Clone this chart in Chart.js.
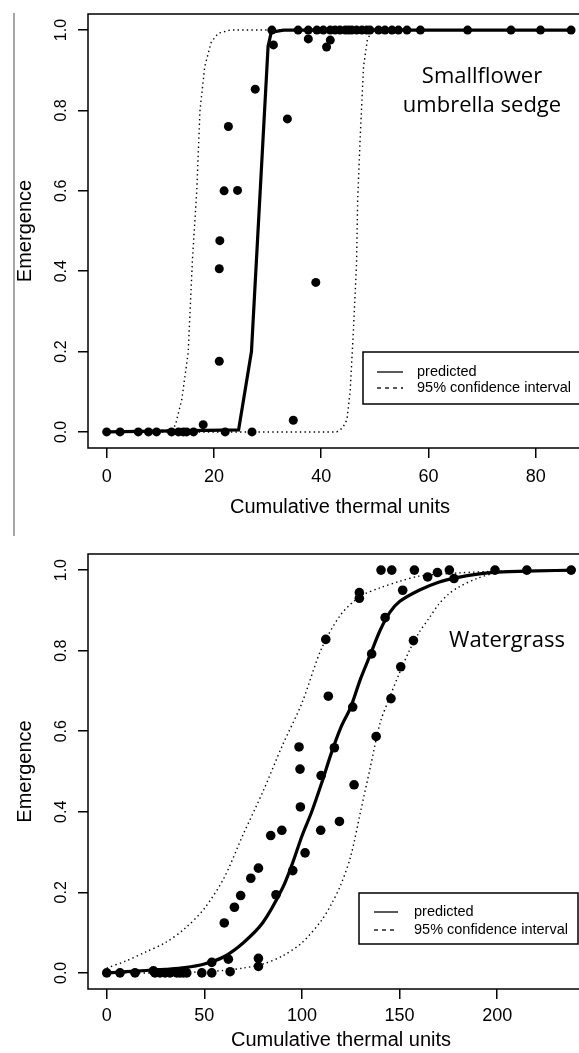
<!DOCTYPE html>
<html>
  <head>
    <title>Emergence vs cumulative thermal units</title>
    <script src="https://cdn.jsdelivr.net/npm/chart.js@4.4.1/dist/chart.umd.min.js"></script>
    <style>
      html, body { margin: 0; padding: 0; overflow: hidden; background: #fff; }
      canvas { display: block; }
    </style>
  </head>

  <body>
    <canvas id="sedge" width="610" height="530"></canvas>
    <canvas id="grass" width="610" height="523"></canvas>
    <script>
      // Smallflower umbrella sedge: observed points
      const sedgeObsX = [0, 2.5, 5.9, 7.8, 9.3, 12.1, 13.4, 14.3, 14.9, 16.2, 22.1, 27.1,
        18.0, 21.0, 21.0, 21.1, 21.9, 24.4, 22.7, 27.7, 33.7, 31.1, 34.8, 39.0,
        37.6, 41.0, 41.7,
        30.8, 35.7, 37.6, 39.2, 40.4, 41.7, 42.6, 43.5, 44.5, 45.1, 45.7, 46.6, 47.6,
        48.5, 49.1, 50.7, 51.9, 53.2, 54.4, 56.0, 58.5, 67.3, 75.4, 80.9, 86.6];
      const sedgeObsY = [0, 0, 0, 0, 0, 0, 0, 0, 0, 0, 0, 0,
        0.018, 0.176, 0.406, 0.476, 0.60, 0.601, 0.76, 0.853, 0.779, 0.963, 0.029, 0.372,
        0.978, 0.958, 0.975,
        1, 1, 1, 1, 1, 1, 1, 1, 1, 1, 1, 1, 1,
        1, 1, 1, 1, 1, 1, 1, 1, 1, 1, 1, 1];
      // predicted curve and 95% confidence bands
      const sedgePredX = [0, 24.6, 27.0, 30.1, 30.7, 33.0, 87];
      const sedgePredY = [0, 0.005, 0.2, 0.96, 0.995, 1.0, 1.0];
      const sedgeUpX = [0, 12.0, 12.8, 14.0, 15.2, 16.0, 16.8, 17.4, 18.3, 19.5, 20.8, 23.0, 87];
      const sedgeUpY = [0, 0.005, 0.016, 0.08, 0.197, 0.43, 0.6, 0.8, 0.91, 0.97, 0.992, 1.0, 1.0];
      const sedgeLoX = [0, 42.9, 44.0, 44.8, 45.4, 46.0, 46.6, 46.8, 47.3, 47.9, 48.6, 49.5, 87];
      const sedgeLoY = [0, 0, 0.01, 0.03, 0.1, 0.25, 0.42, 0.577, 0.74, 0.909, 0.975, 1.0, 1.0];

      // Watergrass: observed points
      const grassObsX = [0, 6.8, 14.5, 24.7, 27.3, 29.9, 32.4, 35.9, 37.5, 39.2, 41.0, 48.7, 53.8, 63.2,
        23.9, 53.8, 62.3, 77.7, 77.7, 60.2, 65.4, 68.6, 73.8, 77.7, 84.0, 89.7, 86.7, 95.3,
        99.2, 101.6, 109.6, 119.2, 126.7, 98.5, 99.0, 109.8, 116.6, 112.2, 113.5, 126.0,
        138.0, 145.6, 150.6, 157.1, 135.7, 142.6, 151.6, 129.4, 129.4, 164.4, 169.4, 177.9,
        140.5, 146.0, 157.6, 175.5, 198.9, 215.2, 237.9];
      const grassObsY = [0, 0, 0, 0, 0, 0, 0, 0, 0, 0, 0, 0, 0, 0.003,
        0.005, 0.026, 0.034, 0.036, 0.016, 0.124, 0.163, 0.192, 0.235, 0.260, 0.341, 0.354, 0.194, 0.254,
        0.412, 0.298, 0.354, 0.376, 0.467, 0.561, 0.506, 0.490, 0.559, 0.828, 0.687, 0.660,
        0.587, 0.681, 0.760, 0.825, 0.792, 0.882, 0.950, 0.944, 0.930, 0.983, 0.994, 0.979,
        1, 1, 1, 1, 1, 1, 1];
      const grassPredX = [0, 10, 20, 30, 40, 50, 60, 70, 80, 90, 95, 100, 105, 110, 115, 120, 125,
        130, 135, 140, 145, 150, 160, 170, 180, 190, 200, 220, 240];
      const grassPredY = [0, 0.003, 0.006, 0.009, 0.013, 0.022, 0.040, 0.075, 0.125, 0.21, 0.27, 0.34,
        0.40, 0.47, 0.545, 0.61, 0.66, 0.73, 0.79, 0.85, 0.895, 0.922, 0.95, 0.97, 0.982, 0.99, 0.995, 0.998, 1.0];
      const grassUpX = [0, 10, 20, 30, 40, 50, 60, 70, 80, 90, 100, 110, 120, 130, 140, 150, 160, 180, 200, 240];
      const grassUpY = [0.012, 0.03, 0.052, 0.075, 0.11, 0.16, 0.235, 0.345, 0.45, 0.565, 0.67, 0.805,
        0.89, 0.935, 0.956, 0.972, 0.985, 0.993, 0.997, 1.0];
      const grassLoX = [0, 30, 40, 50, 60, 70, 80, 90, 100, 110, 115, 120, 125, 130, 135, 140, 145,
        150, 155, 160, 165, 170, 175, 180, 190, 200, 220, 240];
      const grassLoY = [0, 0, 0.001, 0.003, 0.006, 0.012, 0.022, 0.042, 0.075, 0.13, 0.17, 0.22, 0.29,
        0.40, 0.51, 0.62, 0.685, 0.745, 0.80, 0.845, 0.88, 0.915, 0.94, 0.957, 0.98, 0.993, 0.998, 1.0];

      const legendLabels = ['predicted', '95% confidence interval'];
      const yTicks = v => v.toFixed(1);
      const zip = (xs, ys) => xs.map((x, i) => ({x: x, y: ys[i]}));

      const framePlugin = {
        id: 'frame',
        afterDraw(chart, args, o) {
          const ctx = chart.ctx;
          const a = chart.chartArea;
          const y = chart.scales.y;
          ctx.save();
          // box round the plot
          ctx.strokeStyle = '#000';
          ctx.lineWidth = 1.5;
          ctx.strokeRect(a.left, a.top, a.right - a.left, a.bottom - a.top);
          // y tick labels, turned like R does
          ctx.fillStyle = '#000';
          ctx.font = '16px "Liberation Sans", Arial, sans-serif';
          ctx.textAlign = 'center';
          ctx.textBaseline = 'middle';
          y.ticks.forEach((t, i) => {
            ctx.save();
            ctx.translate(62, y.getPixelForTick(i));
            ctx.rotate(-Math.PI / 2);
            ctx.fillText(t.label, 0, 0);
            ctx.restore();
          });
          // species name
          ctx.font = '22px "Open Sans", sans-serif';
          ctx.textBaseline = 'alphabetic';
          o.note.forEach((line, i) => ctx.fillText(line, o.noteX, o.noteY + i * 29));
          // legend
          const L = o.legend;
          ctx.lineWidth = 1.5;
          ctx.strokeRect(L.left, L.top, L.right - L.left, L.bottom - L.top);
          ctx.font = '14.5px "Liberation Sans", Arial, sans-serif';
          ctx.textAlign = 'left';
          ctx.textBaseline = 'middle';
          legendLabels.forEach((label, i) => {
            const ly = L.rows[i];
            ctx.beginPath();
            ctx.lineWidth = 1.3;
            ctx.setLineDash(i === 0 ? [] : [4, 4]);
            ctx.moveTo(L.x0, ly);
            ctx.lineTo(L.x1, ly);
            ctx.stroke();
            ctx.setLineDash([]);
            ctx.fillText(label, L.text, ly);
          });
          // grey rule at the left margin
          ctx.strokeStyle = '#888';
          ctx.lineWidth = 1.5;
          ctx.beginPath();
          ctx.moveTo(14, o.rule[0]);
          ctx.lineTo(14, o.rule[1]);
          ctx.stroke();
          ctx.restore();
        }
      };

      function makeChart(id, d) {
        return new Chart(document.getElementById(id), {
          type: 'scatter',
          data: {
            datasets: [
              { label: 'observed', data: d.obs, pointRadius: d.r, pointBackgroundColor: '#000', pointBorderWidth: 0, showLine: false },
              { label: 'predicted', data: d.pred, showLine: true, borderColor: '#000', borderWidth: 3.2, pointRadius: 0, tension: d.tension },
              { label: 'upper', data: d.up, showLine: true, borderColor: '#000', borderWidth: 1.4, borderDash: [1.4, 3.2], pointRadius: 0, tension: d.tension },
              { label: 'lower', data: d.lo, showLine: true, borderColor: '#000', borderWidth: 1.4, borderDash: [1.4, 3.2], pointRadius: 0, tension: d.tension }
            ]
          },
          options: {
            responsive: false,
            animation: false,
            layout: { padding: d.pad },
            plugins: { legend: { display: false }, tooltip: { enabled: false }, frame: d.frame },
            scales: {
              x: {
                type: 'linear', min: d.xmin, max: d.xmax,
                border: { display: false },
                grid: { drawOnChartArea: false, drawTicks: true, tickLength: 10, color: '#000', lineWidth: 1.5 },
                ticks: { stepSize: d.xstep, includeBounds: false, autoSkip: false, maxRotation: 0, color: '#000', padding: d.tickPad,
                  font: { family: '"Liberation Sans", Arial, sans-serif', size: 18 } },
                title: { display: true, text: 'Cumulative thermal units', color: '#000', padding: { top: 0, bottom: d.titlePad },
                  font: { family: '"Liberation Sans", Arial, sans-serif', size: 20 } },
                afterFit: s => { s.height = d.xh; }
              },
              y: {
                type: 'linear', min: -0.04, max: 1.04,
                border: { display: false },
                grid: { drawOnChartArea: false, drawTicks: true, tickLength: 10, color: '#000', lineWidth: 1.5 },
                ticks: { stepSize: 0.2, includeBounds: false, color: 'rgba(0,0,0,0)', callback: yTicks,
                  font: { family: '"Liberation Sans", Arial, sans-serif', size: 16 } },
                title: { display: true, text: 'Emergence', color: '#000', padding: { top: 13, bottom: 0 },
                  font: { family: '"Liberation Sans", Arial, sans-serif', size: 20 } },
                afterFit: s => { s.width = 88; }
              }
            }
          },
          plugins: [framePlugin]
        });
      }

      makeChart('sedge', {
        obs: zip(sedgeObsX, sedgeObsY), pred: zip(sedgePredX, sedgePredY),
        up: zip(sedgeUpX, sedgeUpY), lo: zip(sedgeLoX, sedgeLoY),
        r: 4.5, tension: 0,
        xmin: -3.48, xmax: 90.5, xstep: 20, xh: 82, tickPad: 8, titlePad: 11,
        pad: { left: 0, top: 14, right: 18, bottom: 0 },
        frame: {
          note: ['Smallflower', 'umbrella sedge'], noteX: 482, noteY: 83,
          legend: { left: 363, top: 352, right: 585, bottom: 404, rows: [372, 388], x0: 377, x1: 403, text: 417 },
          rule: [13, 530]
        }
      });

      makeChart('grass', {
        obs: zip(grassObsX, grassObsY), pred: zip(grassPredX, grassPredY),
        up: zip(grassUpX, grassUpY), lo: zip(grassLoX, grassLoY),
        r: 4.8, tension: 0.3,
        xmin: -9.6, xmax: 249.6, xstep: 50, xh: 64, tickPad: 6, titlePad: 1,
        pad: { left: 0, top: 24, right: 16, bottom: 0 },
        frame: {
          note: ['Watergrass'], noteX: 507, noteY: 117,
          legend: { left: 359, top: 363, right: 578, bottom: 414, rows: [382, 400], x0: 374, x1: 398, text: 414 },
          rule: [0, 6]
        }
      });
    </script>
  </body>
</html>
